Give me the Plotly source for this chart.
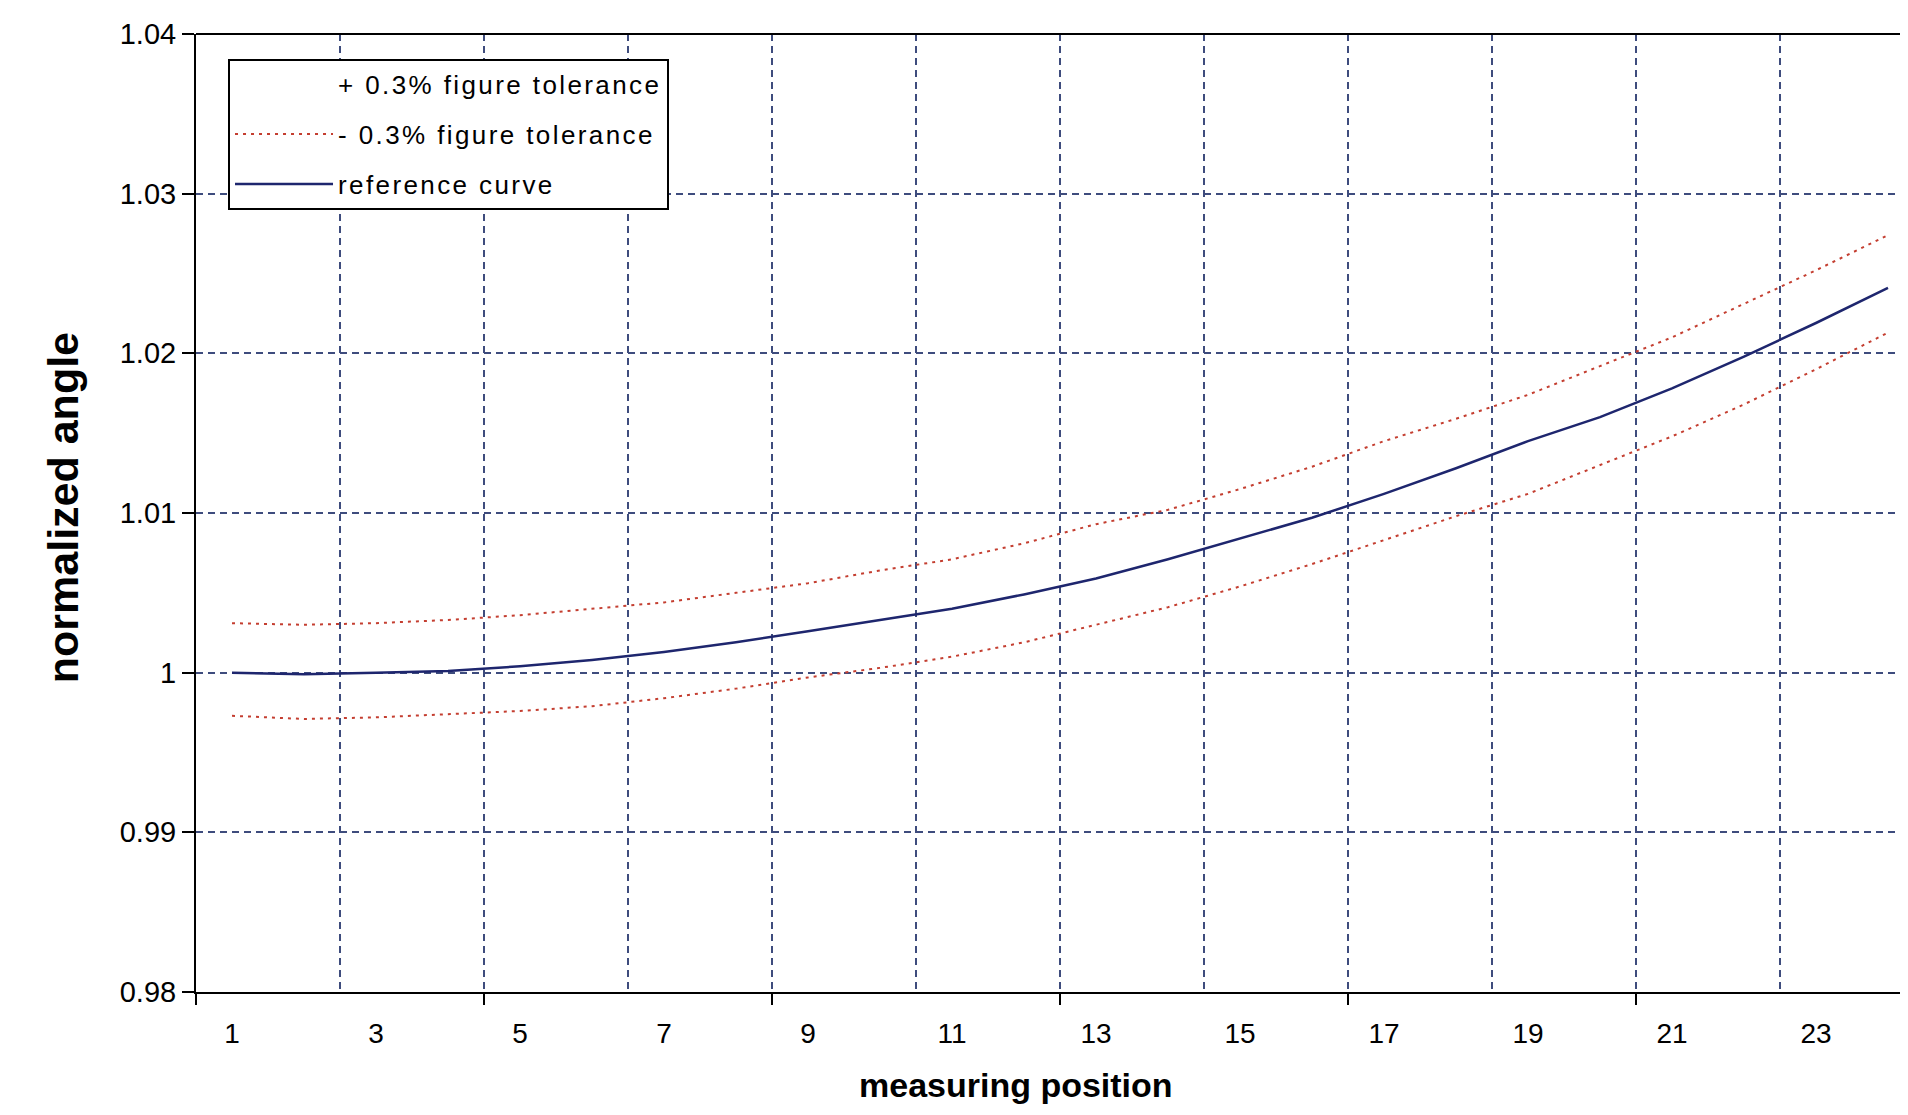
import plotly.graph_objects as go

# ---- data ----
positions = list(range(1, 25))
tick_positions = [1, 3, 5, 7, 9, 11, 13, 15, 17, 19, 21, 23]
tick_labels = [str(v) for v in tick_positions]

reference_curve = [1.0000, 0.9999, 1.0000, 1.0001, 1.0004, 1.0008, 1.0013, 1.0019,
                   1.0026, 1.0033, 1.0040, 1.0049, 1.0059, 1.0071, 1.0084, 1.0097,
                   1.0112, 1.0128, 1.0145, 1.0160, 1.0178, 1.0198, 1.0219, 1.0241]
upper_tolerance = [1.0031, 1.0030, 1.0031, 1.0033, 1.0036, 1.0040, 1.0044, 1.0050,
                   1.0056, 1.0064, 1.0071, 1.0081, 1.0093, 1.0102, 1.0115, 1.0129,
                   1.0145, 1.0159, 1.0174, 1.0192, 1.0210, 1.0231, 1.0252, 1.0274]
lower_tolerance = [0.9973, 0.9971, 0.9972, 0.9974, 0.9976, 0.9979, 0.9984, 0.9990,
                   0.9997, 1.0003, 1.0010, 1.0019, 1.0030, 1.0041, 1.0054, 1.0068,
                   1.0083, 1.0098, 1.0112, 1.0130, 1.0148, 1.0168, 1.0190, 1.0213]

y_tick_vals = [0.98, 0.99, 1.00, 1.01, 1.02, 1.03, 1.04]
y_tick_text = ["0.98", "0.99", "1", "1.01", "1.02", "1.03", "1.04"]

legend_names = ["+ 0.3% figure tolerance", "- 0.3% figure tolerance", "reference curve"]

grid_positions = [0.5 + 2 * k for k in range(13)]
major_tick_positions = [0.5 + 4 * k for k in range(7)]

FONT = "Liberation Sans, Arial, sans-serif"
RED = "rgb(196,62,48)"
BLUE = "rgb(30,38,110)"
GRID = "rgb(62,76,125)"


def spaced(t):
    return '<span style="letter-spacing:2.4px">' + t + '</span>'


fig = go.Figure()

# legend-only entry for the upper tolerance (reference shows no sample for it)
fig.add_trace(go.Scatter(x=[None], y=[None], mode="lines",
                         name=spaced(legend_names[0]),
                         line=dict(color="rgba(255,255,255,0)", width=2),
                         legendgroup="a", hoverinfo="skip"))
fig.add_trace(go.Scatter(x=positions, y=upper_tolerance, mode="lines",
                         name=legend_names[0], showlegend=False,
                         line=dict(color=RED, width=2, dash="3px,5px"),
                         legendgroup="a"))
fig.add_trace(go.Scatter(x=positions, y=lower_tolerance, mode="lines",
                         name=spaced(legend_names[1]),
                         line=dict(color=RED, width=2, dash="3px,5px"),
                         legendgroup="b"))
fig.add_trace(go.Scatter(x=positions, y=reference_curve, mode="lines",
                         name=spaced(legend_names[2]),
                         line=dict(color=BLUE, width=2.5),
                         legendgroup="c"))
# invisible trace on overlay axis to carry the bottom tick marks
fig.add_trace(go.Scatter(x=[None], y=[None], xaxis="x2", showlegend=False,
                         hoverinfo="skip"))

fig.update_layout(
    width=1900, height=1107,
    margin=dict(l=188, r=0, t=26, b=123),
    paper_bgcolor="white", plot_bgcolor="white",
    font=dict(family=FONT, color="black"),
    xaxis=dict(
        range=[0.5, 24.278],
        tickmode="array", tickvals=tick_positions, ticktext=tick_labels,
        ticks="", showgrid=False, zeroline=False,
        showline=True, linecolor="black", linewidth=2,
        tickfont=dict(size=28, family=FONT, color="black"),
        ticklabelstandoff=15,
        minor=dict(tickmode="array", tickvals=grid_positions, showgrid=True,
                   gridcolor=GRID, gridwidth=1.5, griddash="7px,5px", ticks=""),
    ),
    xaxis2=dict(
        overlaying="x", side="bottom", range=[0.5, 24.278],
        tickmode="array", tickvals=major_tick_positions,
        ticks="outside", ticklen=12, tickwidth=2, tickcolor="black",
        showticklabels=False, showgrid=False, zeroline=False, showline=False,
    ),
    yaxis=dict(
        range=[0.98, 1.04],
        tickmode="array", tickvals=y_tick_vals, ticktext=y_tick_text,
        ticks="outside", ticklen=12, tickwidth=2, tickcolor="black",
        showgrid=True, gridcolor=GRID, gridwidth=1.5, griddash="7px,5px",
        zeroline=False, showline=True, linecolor="black", linewidth=2,
        tickfont=dict(size=29, family=FONT, color="black"),
        ticklabelstandoff=0,
    ),
    legend=dict(
        x=0.0187, y=0.974, xanchor="left", yanchor="top",
        bgcolor="white", bordercolor="black", borderwidth=2,
        font=dict(size=26, family=FONT, color="black"),
        itemwidth=98, tracegroupgap=13, traceorder="grouped",
    ),
    shapes=[dict(type="line", xref="paper", yref="paper", x0=0, x1=1, y0=1, y1=1,
                 line=dict(color="black", width=2))],
    annotations=[
        dict(text="<b>measuring position</b>", xref="paper", yref="paper",
             x=0.479, y=-0.097, xanchor="center", yanchor="middle", showarrow=False,
             font=dict(size=34, family=FONT, color="black")),
        dict(text="<b>normalized angle</b>", xref="paper", yref="paper",
             x=-0.0777, y=0.506, xanchor="center", yanchor="middle", showarrow=False,
             textangle=-90, font=dict(size=43, family=FONT, color="black")),
    ],
    showlegend=True,
)

fig.write_html("out.html")
